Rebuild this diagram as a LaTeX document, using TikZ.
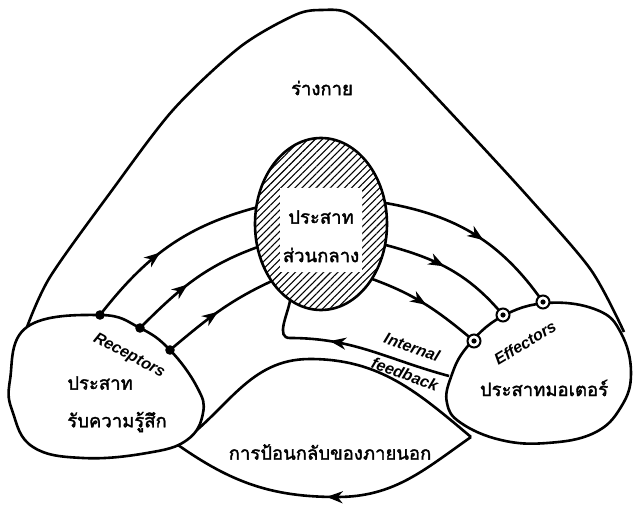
\documentclass[tikz,border=0pt]{standalone}
\usepackage{fontspec}
\setmainfont{Liberation Sans}
\newfontfamily\thaifont[Script=Thai,FakeBold=1.8]{Loma}
\usetikzlibrary{shapes.geometric,arrows.meta,decorations.markings,patterns.meta}

\begin{document}
\begin{tikzpicture}[x=1pt,y=1pt,line width=2.6pt,
  thai/.style={font=\thaifont\fontsize{18.5}{22}\selectfont,inner sep=1pt},
  eng/.style={font=\bfseries\itshape\fontsize{16}{18}\selectfont,inner sep=1pt},
  midarrow/.style={postaction={decorate},decoration={markings,
    mark=at position #1 with {\arrow{Stealth[length=16pt,width=12pt,inset=5pt]}}}},
  midarrow/.default=0.5]
\useasboundingbox (0,0) rectangle (634,504);
% body outline
\draw plot[smooth,tension=0.5] coordinates {(27,177) (50,227) (110,311) (173,394)
  (240,457) (295,489) (322,494) (350,490) (391,454) (464,377) (531,304) (591,234) (624,172)};
\node[thai] (body) at (322,416) {ร่างกาย};
% external feedback loop
\coordinate (h1) at (178,59);
\coordinate (h2) at (471,67);
\coordinate (hb) at (337,7);
\draw (h1) to[out=35,in=180] (310,145) to[out=0,in=140] (h2);
\draw[midarrow=0.5] (h2) to[out=215,in=0] (hb) to[out=180,in=-35] (h1);
% receptors and effectors
\draw[fill=white] plot[smooth cycle,tension=0.7] coordinates {(27,177) (100,189) (140,176)
  (170,154) (197,117) (203,91) (187,64) (147,51) (83,46) (33,57) (13,91) (10,124)};
\draw[fill=white] plot[smooth cycle,tension=0.7] coordinates {(467,157) (501,187) (547,201)
  (597,194) (621,171) (631,131) (621,97) (594,71) (547,61) (501,64) (461,81) (447,101) (451,127)};
% central nervous system
\node[draw,ellipse,minimum width=132pt,minimum height=172pt,inner sep=0pt,
  pattern={Lines[angle=45,distance=5pt,line width=1.1pt]}] (cns) at (321,280) {};
\node[fill=white,minimum width=82pt,minimum height=84pt,inner sep=0pt] (cnsbox) at (321,274) {};
\node[thai] (cnsA) at (321,287) {ประสาท};
\node[thai] (cnsB) at (321,249) {ส่วนกลาง};
% sensory paths
\coordinate (r1) at (100,189);
\coordinate (r2) at (140,176);
\coordinate (r3) at (170,154);
\draw[midarrow=0.45] (r1) to[out=52,in=195] (cns.166);
\draw[midarrow=0.45] (r2) to[out=45,in=200] (cns.200);
\draw[midarrow=0.5] (r3) to[out=40,in=205] (cns.229);
\foreach \r in {r1,r2,r3} \fill (\r) circle (4.8);
% motor paths
\coordinate (e1) at (474,163);
\coordinate (e2) at (503,189);
\coordinate (e3) at (543,202);
\draw[midarrow=0.55] (cns.18) to[out=-10,in=125] (e3);
\draw[midarrow=0.45] (cns.-18) to[out=-15,in=130] (e2);
\draw[midarrow=0.5] (cns.-47) to[out=-20,in=140] (e1);
\foreach \e in {e1,e2,e3} {
  \draw[line width=2pt,fill=white] (\e) circle (6.5);
  \fill (\e) circle (2.6);
}
% internal feedback
\coordinate (ifb) at (449,128);
\draw[midarrow=0.6] (ifb) to[out=165,in=0] (290,166) to[out=180,in=260] (cns.248);
% labels
\node[eng,rotate=-28] (rec) at (129,148) {Receptors};
\node[thai,anchor=west] (recA) at (65,121) {ประสาท};
\node[thai,anchor=west] (recB) at (65,82) {รับความรู้สึก};
\node[eng,rotate=31] (eff) at (525,161) {Effectors};
\node[thai] (effA) at (544,116) {ประสาทมอเตอร์};
\node[eng,rotate=-20] (intA) at (412,157) {Internal};
\node[eng,rotate=-20] (intB) at (405,130) {feedback};
\node[thai] (ext) at (330,52) {การป้อนกลับของภายนอก};
\end{tikzpicture}
\end{document}
